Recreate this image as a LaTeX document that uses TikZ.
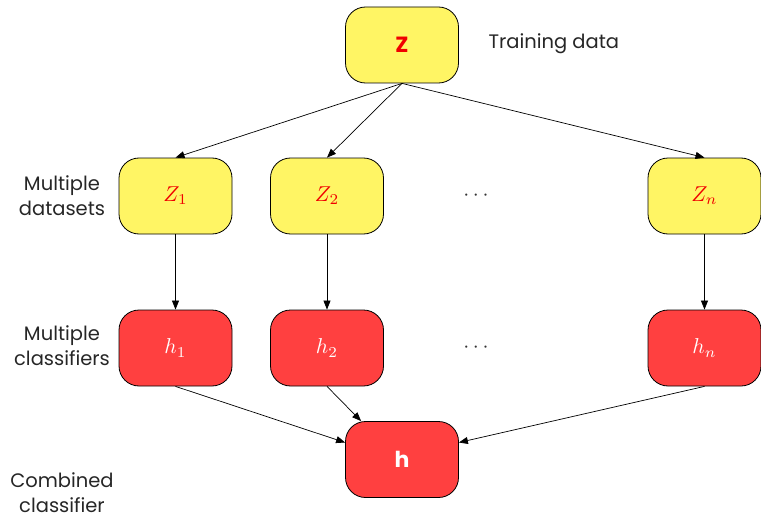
\documentclass[tikz,border=0pt]{standalone}
\usepackage{graphicx}
\usepackage{fontspec}
\setsansfont{Poppins}
\usetikzlibrary{arrows.meta}
\definecolor{boxyellow}{RGB}{255,245,100}
\definecolor{boxred}{RGB}{255,64,64}
\definecolor{txtred}{RGB}{240,0,0}
\newcommand{\mbig}[1]{\scalebox{2.15}{\fontsize{10}{12}\selectfont$#1$}}
\tikzset{
  box/.style={draw=black, line width=0.8pt, rounded corners=20pt, minimum width=113pt, minimum height=76pt, inner sep=0pt},
  ybox/.style={box, fill=boxyellow, text=txtred, font=\fontsize{21}{25}\selectfont},
  rbox/.style={box, fill=boxred, text=white, font=\fontsize{21}{25}\selectfont},
  lbl/.style={font=\sffamily\fontsize{19.5}{25}\selectfont, align=center, text=black!85},
  dots/.style={text=black!80},
  conn/.style={-{Triangle[length=9pt,width=7pt]}, line width=0.7pt, black},
}
\begin{document}
\begin{tikzpicture}[x=1pt,y=-1pt]
\useasboundingbox (0,0) rectangle (761,519);
\node[ybox] (Z) at (402,45) {\sffamily\bfseries\fontsize{22}{25}\selectfont Z};
\node[lbl, anchor=west] (train) at (485,44) {Training data};
\node[ybox] (Z1) at (175.5,196) {\mbig{Z_1}};
\node[ybox] (Z2) at (327,196) {\mbig{Z_2}};
\node[ybox] (Zn) at (704.5,196) {\mbig{Z_n}};
\node[dots] (d1) at (476,196) {\mbig{\cdots}};
\node[rbox] (h1) at (175.5,348) {\mbig{h_1}};
\node[rbox] (h2) at (327,348) {\mbig{h_2}};
\node[rbox] (hn) at (704.5,348) {\mbig{h_n}};
\node[dots] (d2) at (476,348) {\mbig{\cdots}};
\node[rbox] (h) at (402,459.5) {\sffamily\bfseries\fontsize{22}{25}\selectfont h};
\node[lbl] (lab1) at (62,196) {Multiple\\datasets};
\node[lbl] (lab2) at (62,346) {Multiple\\classifiers};
\node[lbl] (lab3) at (62,493) {Combined\\classifier};
\draw[conn] (Z.south) -- (Z1.north);
\draw[conn] (Z.south) -- (Z2.north);
\draw[conn] (Z.south) -- (Zn.north);
\draw[conn] (Z1.south) -- (h1.north);
\draw[conn] (Z2.south) -- (h2.north);
\draw[conn] (Zn.south) -- (hn.north);
\draw[conn] (h1.south) -- ([yshift=17pt]h.west);
\draw[conn] (h2.south) -- ([xshift=16pt]h.north west);
\draw[conn] (hn.south) -- ([yshift=17pt]h.east);
\end{tikzpicture}
\end{document}
